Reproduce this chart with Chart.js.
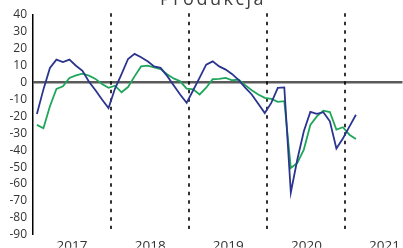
<!DOCTYPE html>
<html><head><meta charset="utf-8">
<script src="https://cdn.jsdelivr.net/npm/chart.js@4.4.1/dist/chart.umd.min.js"></script>
<style>
html,body{margin:0;padding:0;background:#fff;overflow:hidden;}
#wrap{position:relative;width:403px;height:248px;overflow:hidden;}
#c{position:absolute;left:0;top:0;}
#title{position:absolute;left:113px;width:200px;top:-11px;text-align:center;font-family:"Open Sans",sans-serif;font-size:18px;line-height:18px;letter-spacing:2.5px;color:#404040;white-space:nowrap;}
</style></head>
<body><div id="wrap"><canvas id="c" width="403" height="248"></canvas><div id="title">Produkcja</div></div>
<script>
// Monthly values, Jan 2017 .. Feb 2021 (index = month number from Jan 2017)
const seriesBlue = [
  -18.5, -4, 8.7, 13.6, 12.2, 13.6, 10, 7, 0.5, -4.5, -10, -15,
  -3.5, 5, 14, 17, 15, 12.6, 9.6, 8.7, 4, -1.5, -7, -12,
  -4.5, 3, 10.6, 12.6, 9.6, 7.7, 5, 1.5, -3, -7, -12.5, -18,
  -12, -3.1, -2.8, -65, -45.5, -28.8, -17.3, -18.5, -17.5, -22.9, -39, -33, -26, -19
];
const seriesGreen = [
  -25, -27, -14, -3.7, -2.2, 2.8, 4.3, 5.3, 4.1, 2.2, -0.8, -3.1,
  -1.8, -5.7, -2.6, 3.7, 9.6, 10, 9, 8, 5, 2.5, 0.8, -3.5,
  -4, -7, -3, 2, 2.2, 2.8, 1.4, 1.8, -1.5, -4.5, -7, -9,
  -9.6, -11.4, -11, -50.5, -47.5, -39.6, -25, -20, -16.6, -17.4, -27.8, -26.4, -30.8, -33.3
];
const yearLabels = ["2017", "2018", "2019", "2020", "2021"];
const yearCenters = [5.4, 17.4, 29.4, 41.4, 53.4];
const yearBoundaries = [11.35, 23.35, 35.35, 47.4];
const yTicks = { min: -90, max: 40, step: 10 };

const toPoints = arr => arr.map((v, i) => ({ x: i, y: v }));

const yearLines = {
  id: 'yearLines',
  beforeDatasetsDraw(chart) {
    const { ctx, scales: { x, y } } = chart;
    const top = y.getPixelForValue(41);
    const bottom = y.getPixelForValue(-86.5);
    ctx.save();
    ctx.strokeStyle = '#000';
    ctx.lineWidth = 1.6;
    ctx.setLineDash([3.5, 5]);
    yearBoundaries.forEach(b => {
      const px = Math.round(x.getPixelForValue(b));
      ctx.beginPath();
      ctx.moveTo(px, top);
      ctx.lineTo(px, bottom);
      ctx.stroke();
    });
    ctx.restore();
  }
};

new Chart(document.getElementById('c'), {
  type: 'line',
  data: {
    datasets: [
      { data: toPoints(seriesBlue), borderColor: '#2b3590', borderWidth: 1.8, pointRadius: 0, tension: 0, fill: false },
      { data: toPoints(seriesGreen), borderColor: '#1fa65b', borderWidth: 1.8, pointRadius: 0, tension: 0, fill: false }
    ]
  },
  options: {
    responsive: false,
    animation: false,
    devicePixelRatio: 1,
    layout: { padding: { top: 15, left: 0, right: 0, bottom: 0 } },
    plugins: { legend: { display: false }, tooltip: { enabled: false }, title: { display: false } },
    scales: {
      x: {
        type: 'linear',
        min: -0.6,
        max: 56.15,
        grid: { display: false, drawTicks: false },
        border: { display: false },
        afterBuildTicks(scale) { scale.ticks = yearCenters.map(v => ({ value: v })); },
        afterFit(scale) { scale.height = 13; },
        ticks: {
          autoSkip: false, maxRotation: 0, minRotation: 0, padding: 3,
          color: '#333', font: { family: 'Open Sans', size: 13.5 },
          callback: (v, i) => yearLabels[i]
        }
      },
      y: {
        min: yTicks.min,
        max: yTicks.max,
        afterFit(scale) { scale.width = 33; },
        border: { display: true, color: '#000', width: 1.5 },
        grid: {
          drawTicks: false,
          color: c => (c.tick && c.tick.value === 0) ? '#5a5a5a' : 'rgba(0,0,0,0)',
          lineWidth: c => (c.tick && c.tick.value === 0) ? 2.5 : 0
        },
        ticks: {
          stepSize: yTicks.step, padding: 6, color: '#333',
          font: { family: 'Open Sans', size: 12 }
        }
      }
    }
  },
  plugins: [yearLines]
});
</script>
</body></html>
